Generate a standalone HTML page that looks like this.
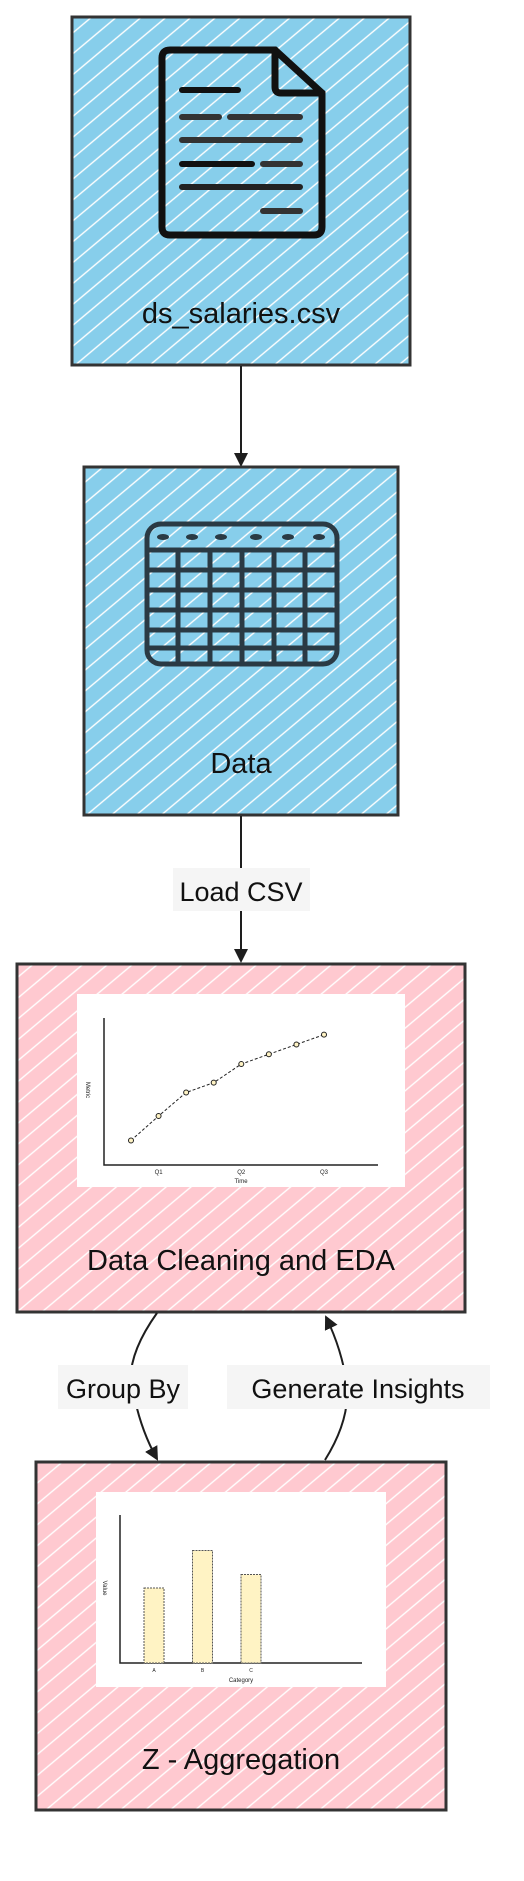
<!DOCTYPE html>
<html><head><meta charset="utf-8"><style>
html,body{margin:0;padding:0;background:#fff;}
body{width:524px;height:1876px;overflow:hidden;font-family:"Liberation Sans",sans-serif;}
</style></head><body>
<svg width="524" height="1876" viewBox="0 0 524 1876" xmlns="http://www.w3.org/2000/svg">
<defs>
<pattern id="hb" width="16" height="16" patternUnits="userSpaceOnUse" patternTransform="rotate(-40)">
<rect width="16" height="16" fill="#87ceeb"/><line x1="0" y1="8" x2="16" y2="8" stroke="#fff" stroke-width="1.4"/></pattern>
<pattern id="hp" width="16" height="16" patternUnits="userSpaceOnUse" patternTransform="rotate(-40)">
<rect width="16" height="16" fill="#ffc9d0"/><line x1="0" y1="8" x2="16" y2="8" stroke="#fff" stroke-width="1.4"/></pattern>
<marker id="ah" markerWidth="14" markerHeight="14" refX="12" refY="7" orient="auto" markerUnits="userSpaceOnUse"><path d="M0,0 L14,7 L0,14 z" fill="#1e1e1e"/></marker>
</defs>

<g>
<rect x="72" y="17" width="338" height="348" fill="url(#hb)" stroke="#333" stroke-width="3"/>
<g fill="none" stroke="#111" stroke-linecap="round">
<path d="M170,50 L275,50 L322,93 L322,227 Q322,235 314,235 L170,235 Q162,235 162,227 L162,58 Q162,50 170,50 Z" stroke-width="7"/>
<path d="M275,50 L275,87 Q275,93 281,93 L322,93" stroke-width="7"/>
<g stroke-width="6"><line x1="182" y1="90" x2="238" y2="90"/><line x1="182" y1="117" x2="219" y2="117" stroke="#333"/><line x1="230" y1="117" x2="300" y2="117" stroke="#333"/><line x1="182" y1="140" x2="300" y2="140" stroke="#333"/><line x1="182" y1="164" x2="252" y2="164"/><line x1="263" y1="164" x2="300" y2="164" stroke="#333"/><line x1="182" y1="187" x2="300" y2="187" stroke="#222"/><line x1="263" y1="211" x2="300" y2="211" stroke="#333"/></g>
</g>
<text x="241" y="323" text-anchor="middle" font-size="29" fill="#111">ds_salaries.csv</text>
</g>

<line x1="241" y1="366" x2="241" y2="465" stroke="#1e1e1e" stroke-width="2" marker-end="url(#ah)"/>

<g>
<rect x="84" y="467" width="314" height="348" fill="url(#hb)" stroke="#333" stroke-width="3"/>
<g fill="none" stroke="#2a3a44" stroke-width="5">
<rect x="147" y="524" width="190" height="140" rx="14"/>
<line x1="149" y1="550" x2="335" y2="550"/><line x1="149" y1="570" x2="335" y2="570"/><line x1="149" y1="590" x2="335" y2="590"/><line x1="149" y1="610" x2="335" y2="610"/><line x1="149" y1="630" x2="335" y2="630"/><line x1="149" y1="648" x2="335" y2="648"/>
<line x1="178" y1="550" x2="178" y2="662"/><line x1="210" y1="550" x2="210" y2="662"/><line x1="242" y1="550" x2="242" y2="662"/><line x1="274" y1="550" x2="274" y2="662"/><line x1="305" y1="550" x2="305" y2="662"/>
<g fill="#2a3a44" stroke="none"><ellipse cx="163" cy="537" rx="6" ry="3"/><ellipse cx="192" cy="537" rx="6" ry="3"/><ellipse cx="221" cy="537" rx="6" ry="3"/><ellipse cx="256" cy="537" rx="6" ry="3"/><ellipse cx="288" cy="537" rx="6" ry="3"/><ellipse cx="319" cy="537" rx="6" ry="3"/></g>
</g>
<text x="241" y="773" text-anchor="middle" font-size="29" fill="#111">Data</text>
</g>

<g>
<line x1="241" y1="816" x2="241" y2="961" stroke="#1e1e1e" stroke-width="2" marker-end="url(#ah)"/>
<rect x="173" y="868" width="137" height="43" fill="#f5f5f5"/>
<text x="241" y="901" text-anchor="middle" font-size="27" fill="#111">Load CSV</text>
</g>

<g>
<rect x="17" y="964" width="448" height="348" fill="url(#hp)" stroke="#333" stroke-width="3"/>
<rect x="77" y="994" width="328" height="193" fill="#fff"/>
<svg id="lc" x="0" y="0" width="524" height="1876" overflow="visible"></svg>
<text x="241" y="1270" text-anchor="middle" font-size="29" fill="#111">Data Cleaning and EDA</text>
</g>

<g>
<path d="M157,1313 Q120,1365 135,1400 Q142,1432 157,1459" fill="none" stroke="#1e1e1e" stroke-width="2" marker-end="url(#ah)"/>
<rect x="58" y="1365" width="130" height="44" fill="#f5f5f5"/>
<text x="123" y="1398" text-anchor="middle" font-size="27" fill="#111">Group By</text>
</g>
<g>
<path d="M325,1460 Q350,1420 347,1385 Q342,1350 326,1317" fill="none" stroke="#1e1e1e" stroke-width="2" marker-end="url(#ah)"/>
<rect x="227" y="1365" width="263" height="44" fill="#f5f5f5"/>
<text x="358" y="1398" text-anchor="middle" font-size="27" fill="#111">Generate Insights</text>
</g>

<g>
<rect x="36" y="1462" width="410" height="348" fill="url(#hp)" stroke="#333" stroke-width="3"/>
<rect x="96" y="1492" width="290" height="195" fill="#fff"/>
<svg id="bc" x="0" y="0" width="524" height="1876" overflow="visible"></svg>
<text x="241" y="1769" text-anchor="middle" font-size="29" fill="#111">Z - Aggregation</text>
</g>
</svg>
<script>
const lineValues=[25,50,74,84,103,113,123,133];
const lineTicks=["Q1","Q2","Q3"];
const lineTickIdx=[1,4,7];
const barCats=["A","B","C"];
const barValues=[50,75,59];
const NS="http://www.w3.org/2000/svg";
function mk(p,t,a){const e=document.createElementNS(NS,t);for(const k in a)e.setAttribute(k,a[k]);p.appendChild(e);return e;}
(function(){
const g=document.getElementById('lc');
const x0=104,y0=1165,top=1018,xr=378;
const lx=i=>131+i*(324-131)/(lineValues.length-1);
const ly=v=>y0-v*(y0-top)/150;
let ax=mk(g,'path',{d:`M${x0},${top} L${x0},${y0} L${xr},${y0}`,fill:'none',stroke:'#222','stroke-width':1.5});

let ln=mk(g,'polyline',{points:lineValues.map((v,i)=>lx(i)+','+ly(v)).join(' '),fill:'none',stroke:'#222','stroke-width':1,'stroke-dasharray':'3,2'});

lineValues.forEach((v,i)=>{const c=mk(g,'circle',{cx:lx(i),cy:ly(v),r:2.5,fill:'#fff3c4',stroke:'#222','stroke-width':1});
});
lineTicks.forEach((t,k)=>{const e=mk(g,'text',{x:lx(lineTickIdx[k]),y:1174,'text-anchor':'middle','font-size':6,fill:'#222'});e.textContent=t;
});
let tt=mk(g,'text',{x:241,y:1183,'text-anchor':'middle','font-size':6,fill:'#222'});tt.textContent='Time';

let yt=mk(g,'text',{x:86,y:1090,'text-anchor':'middle','font-size':6,fill:'#222',transform:'rotate(90 86 1090)'});yt.textContent='Metric';

})();
(function(){
const g=document.getElementById('bc');
const x0=120,y0=1663,top=1515,xr=362;
const bx=i=>154+i*48.5;
const by=v=>y0-v*1.5;
let ax=mk(g,'path',{d:`M${x0},${top} L${x0},${y0} L${xr},${y0}`,fill:'none',stroke:'#222','stroke-width':1.5});

barValues.forEach((v,i)=>{const r=mk(g,'rect',{x:bx(i)-10,y:by(v),width:20,height:y0-by(v),fill:'#fff3c4',stroke:'#555','stroke-width':1,'stroke-dasharray':'2,1'});

const t=mk(g,'text',{x:bx(i),y:1672,'text-anchor':'middle','font-size':5,fill:'#222'});t.textContent=barCats[i];
});
let tt=mk(g,'text',{x:241,y:1682,'text-anchor':'middle','font-size':6,fill:'#222'});tt.textContent='Category';

let yt=mk(g,'text',{x:103,y:1588,'text-anchor':'middle','font-size':6,fill:'#222',transform:'rotate(90 103 1588)'});yt.textContent='Value';

})();
</script>
</body></html>
